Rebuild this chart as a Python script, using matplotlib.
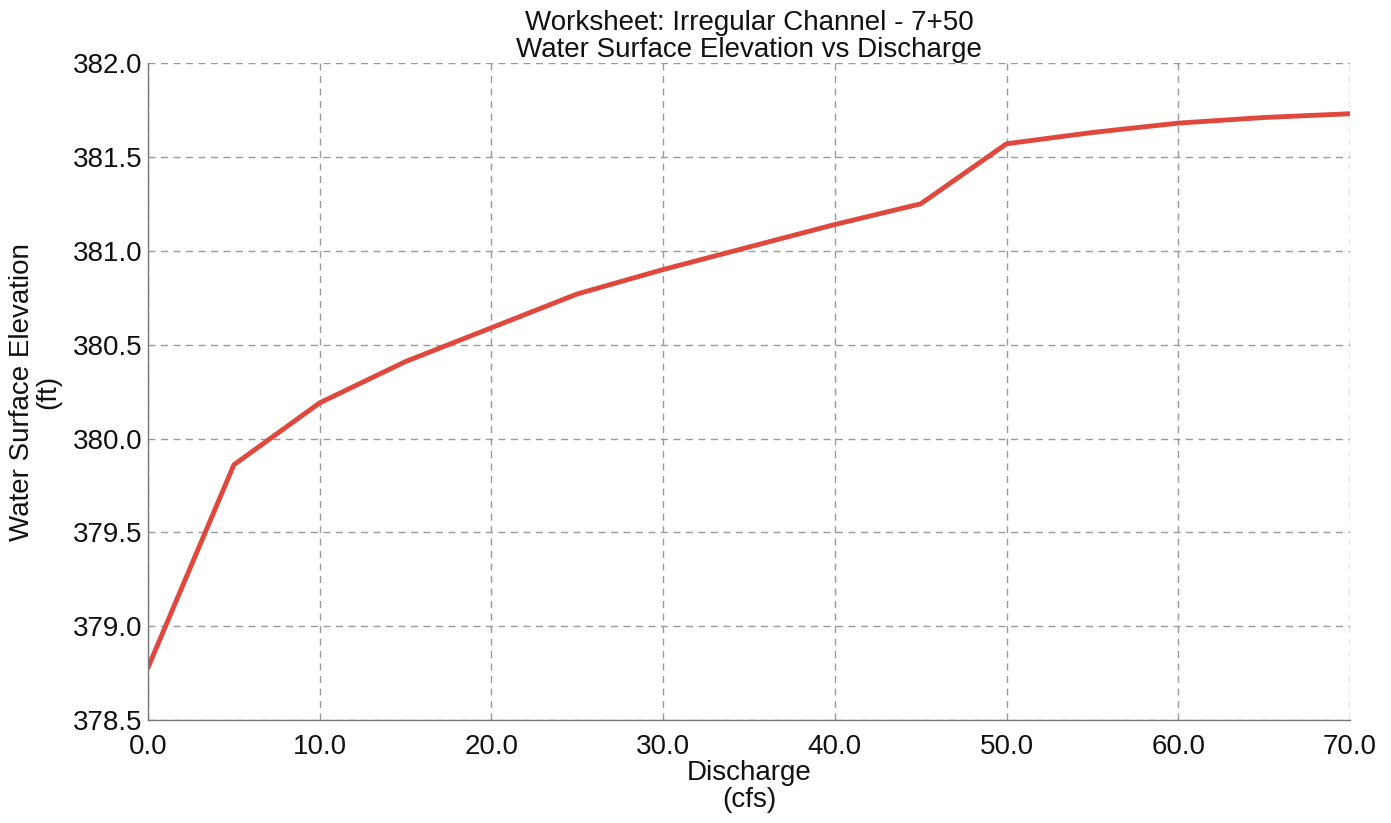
import matplotlib
matplotlib.use("Agg")
import matplotlib.pyplot as plt
from matplotlib.ticker import MultipleLocator, FormatStrFormatter

discharge = [0, 5, 10, 15, 20, 25, 30, 35, 40, 45, 50, 55, 60, 65, 70]
elevation = [378.78, 379.86, 380.19, 380.41, 380.59, 380.77, 380.90, 381.02, 381.14, 381.25,
             381.57, 381.63, 381.68, 381.71, 381.73]

plt.rcParams['font.family'] = ['Liberation Sans', 'DejaVu Sans']

fig = plt.figure(figsize=(13.91, 8.23), dpi=100)
ax = fig.add_axes([0.1064, 0.125, 0.8641, 0.7984])
ax.plot(discharge, elevation, color='#e0473d', lw=3.5, solid_capstyle='round')
ax.set_xlim(0, 70)
ax.set_ylim(378.5, 382.0)
ax.xaxis.set_major_locator(MultipleLocator(10))
ax.yaxis.set_major_locator(MultipleLocator(0.5))
ax.xaxis.set_major_formatter(FormatStrFormatter('%.1f'))
ax.yaxis.set_major_formatter(FormatStrFormatter('%.1f'))
ax.grid(True, linestyle=(0, (5, 4)), color='#999999', lw=1.0)
for s in ['top', 'right']:
    ax.spines[s].set_visible(False)
for s in ['left', 'bottom']:
    ax.spines[s].set_color('#777777')
    ax.spines[s].set_linewidth(1.0)
ax.tick_params(length=0, labelsize=20, colors='#111111')
ax.tick_params(axis='x', pad=10)
ax.tick_params(axis='y', pad=4)
ax.set_xlabel('Discharge\n(cfs)', fontsize=20, color='#111111', labelpad=0, linespacing=1.05)
ax.set_ylabel('Water Surface Elevation\n(ft)', fontsize=20, color='#111111', labelpad=8, linespacing=1.05)
ax.set_title('Worksheet: Irregular Channel - 7+50\nWater Surface Elevation vs Discharge',
             fontsize=20, color='#111111', pad=4, linespacing=1.05)
fig.savefig('out.png', dpi=100)
